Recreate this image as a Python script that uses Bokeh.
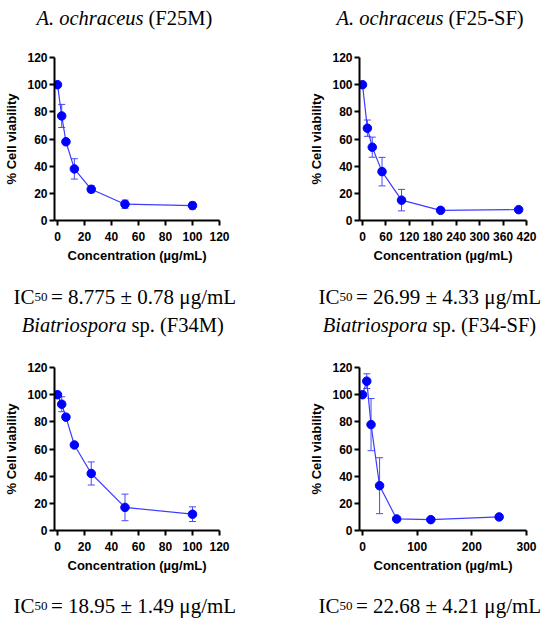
from bokeh.plotting import figure
from bokeh.models import Range1d, FixedTicker, Whisker, TeeHead, ColumnDataSource
from bokeh.core.properties import value
from bokeh.layouts import row, column
from bokeh.embed import file_html
from bokeh.resources import INLINE

# ---------------- data ----------------
conc_f25m = [0, 3.125, 6.25, 12.5, 25, 50, 100]
via_f25m = [100, 77, 58, 38, 23, 12, 11]
err_f25m = [0, 8.5, 1, 7.5, 2.5, 3, 2.5]

conc_f25sf = [0, 12.5, 25, 50, 100, 200, 400]
via_f25sf = [100, 68, 54, 36, 15, 7.5, 8]
err_f25sf = [0, 6, 7.4, 10.5, 7.9, 1, 1]

conc_f34m = [0, 3.125, 6.25, 12.5, 25, 50, 100]
via_f34m = [100, 93, 83.5, 63, 42, 17, 12]
err_f34m = [0, 5.5, 1, 1, 8.5, 9.8, 5.4]

conc_f34sf = [0, 7.8125, 15.625, 31.25, 62.5, 125, 250]
via_f34sf = [100, 110, 78, 33, 8.5, 8, 10]
err_f34sf = [0, 5.4, 19.2, 20.6, 1, 1, 1]

xticks_f25m = [0, 20, 40, 60, 80, 100, 120]
xticks_f25sf = [0, 60, 120, 180, 240, 300, 360, 420]
xticks_f34m = [0, 20, 40, 60, 80, 100, 120]
xticks_f34sf = [0, 100, 200, 300]
yticks = [0, 20, 40, 60, 80, 100, 120]

titles_italic = ["A. ochraceus", "A. ochraceus", "Biatriospora", "Biatriospora"]
titles_normal = ["(F25M)", "(F25-SF)", "sp. (F34M)", "sp. (F34-SF)"]
ic50_texts = ["= 8.775 \u00b1 0.78 \u03bcg/mL", "= 26.99 \u00b1 4.33 \u03bcg/mL",
              "= 18.95 \u00b1 1.49 \u03bcg/mL", "= 22.68 \u00b1 4.21 \u03bcg/mL"]

x_label = "Concentration (\u00b5g/mL)"
y_label = "% Cell viability"

# ---------------- style / layout ----------------
PT = "#0000ff"
LN = "#3c3cff"
EB = "#4a4af5"
SANS = "Liberation Sans"
SERIF = "Liberation Serif"
TSIZE = "20.5px"
ISIZE = "21px"
PAD = 3           # px between the y axis and x = 0

W_L, W_R = 305, 243
H_TOP, H_MID, H_BOT = 30, 60, 33
H_PLOT = 250


def plot_panel(conc, via, err, xticks, width, mb_left, mb_right, frame_w):
    xmax = xticks[-1]
    ppu = (frame_w - PAD) / xmax
    p = figure(width=width, height=H_PLOT, output_backend="svg", toolbar_location=None,
               x_range=Range1d(-PAD / ppu, xmax * 1.0001), y_range=Range1d(0, 120.05),
               min_border_left=mb_left, min_border_right=mb_right,
               min_border_top=27, min_border_bottom=60)
    p.outline_line_color = None
    p.grid.visible = False

    for ax in (p.xaxis[0], p.yaxis[0]):
        ax.axis_line_width = 2
        ax.axis_line_color = "black"
        ax.major_tick_line_width = 2
        ax.major_tick_line_color = "black"
        ax.major_tick_in = 0
        ax.major_tick_out = 5
        ax.minor_tick_line_color = None
        ax.major_label_text_font = SANS
        ax.major_label_text_font_style = "bold"
        ax.major_label_text_font_size = "12px"
        ax.major_label_text_color = "black"
        ax.axis_label_text_font = SANS
        ax.axis_label_text_font_style = "bold"
        ax.axis_label_text_font_size = "13px"
        ax.axis_label_text_color = "black"

    p.xaxis.ticker = FixedTicker(ticks=xticks)
    p.xaxis.axis_label = x_label
    p.xaxis.major_label_standoff = 6
    p.xaxis.axis_label_standoff = 4

    p.yaxis.ticker = FixedTicker(ticks=yticks)
    p.yaxis.axis_label = y_label
    p.yaxis.major_label_standoff = 2
    p.yaxis.axis_label_standoff = 5

    src = ColumnDataSource(dict(x=conc, y=via,
                                upper=[v + e for v, e in zip(via, err)],
                                lower=[v - e for v, e in zip(via, err)]))
    wk = Whisker(base="x", upper="upper", lower="lower", source=src, dimension="height",
                 line_color=EB, line_width=1,
                 upper_head=TeeHead(size=7, line_color=EB, line_width=1),
                 lower_head=TeeHead(size=7, line_color=EB, line_width=1),
                 level="underlay")
    p.add_layout(wk)
    p.line("x", "y", source=src, line_color=LN, line_width=1.2)
    p.scatter("x", "y", source=src, size=8.5, fill_color=PT, line_color=PT)
    return p


def text_strip(width, height, items):
    """items: list of (text, x_px, baseline_px, align, size, style)"""
    t = figure(width=width, height=height, output_backend="svg", toolbar_location=None,
               x_range=Range1d(0, width), y_range=Range1d(height, 0),
               x_axis_type=None, y_axis_type=None,
               min_border_left=0, min_border_right=0, min_border_top=0, min_border_bottom=0)
    t.outline_line_color = None
    t.grid.visible = False
    for text, x, y, align, size, style in items:
        t.text(x=[x], y=[y], text=[text], text_align=align, text_baseline="alphabetic",
               text_font=value(SERIF), text_font_size=size, text_font_style=style,
               text_color="black")
    return t


def title_items(i, split, base):
    return [(titles_italic[i], split, base, "right", TSIZE, "italic"),
            (titles_normal[i], split + 5, base, "left", TSIZE, "normal")]


def ic_items(i, x0, base):
    return [("IC", x0, base, "left", ISIZE, "normal"),
            ("50", x0 + 21, base, "left", "13px", "normal"),
            (ic50_texts[i], x0 + 37.5, base, "left", ISIZE, "normal")]


t1 = text_strip(W_L, H_TOP, title_items(0, 143, 17))
t2 = text_strip(W_R, H_TOP, title_items(1, 443 - W_L, 17))

p1 = plot_panel(conc_f25m, via_f25m, err_f25m, xticks_f25m, W_L, 54, 86, 165)
p2 = plot_panel(conc_f25sf, via_f25sf, err_f25sf, xticks_f25sf, W_R, 54, 22, 167)

m1 = text_strip(W_L, H_MID, ic_items(0, 13, 16) + title_items(2, 126, 44))
m2 = text_strip(W_R, H_MID, ic_items(1, 318 - W_L, 16) + title_items(3, 427 - W_L, 44))

p3 = plot_panel(conc_f34m, via_f34m, err_f34m, xticks_f34m, W_L, 54, 86, 165)
p4 = plot_panel(conc_f34sf, via_f34sf, err_f34sf, xticks_f34sf, W_R, 54, 22, 167)

b1 = text_strip(W_L, H_BOT, ic_items(2, 13, 15))
b2 = text_strip(W_R, H_BOT, ic_items(3, 318 - W_L, 15))

layout = column(row(t1, t2), row(p1, p2), row(m1, m2), row(p3, p4), row(b1, b2))
open("out.html", "w").write(file_html(layout, INLINE))
